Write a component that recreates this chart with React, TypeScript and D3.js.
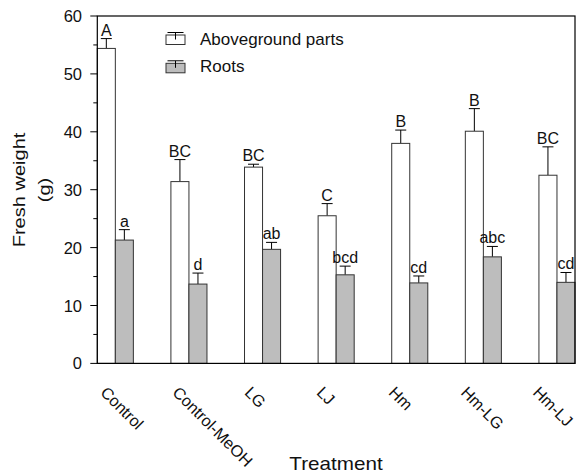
import React from "react";
import * as d3 from "d3";

const categories = ["Control", "Control-MeOH", "LG", "LJ", "Hm", "Hm-LG", "Hm-LJ"];
const aboveValues = [54.4, 31.4, 33.9, 25.5, 38.0, 40.1, 32.5];
const aboveErrors = [1.7, 3.8, 0.5, 2.1, 2.3, 3.9, 4.9];
const aboveLetters = ["A", "BC", "BC", "C", "B", "B", "BC"];
const rootValues = [21.3, 13.7, 19.7, 15.3, 13.9, 18.4, 14.0];
const rootErrors = [1.8, 1.9, 1.2, 1.5, 1.2, 1.8, 1.7];
const rootLetters = ["a", "d", "ab", "bcd", "cd", "abc", "cd"];
const seriesNames = ["Aboveground parts", "Roots"];
const yTicks = [0, 10, 20, 30, 40, 50, 60];
const yMinorTicks = [5, 15, 25, 35, 45, 55];

const FONT = "'Liberation Sans', Arial, Helvetica, sans-serif";
const W = 579;
const H = 476;
const left = 97.3;
const right = 575;
const top = 16;
const bottom = 363.4;
const WHITE = "#ffffff";
const GREY = "#bdbdbd";
const STROKE = "#333333";

export default function App() {
  const x = d3.scaleBand<string>().domain(categories).range([left, right]).paddingInner(0.51).paddingOuter(0);
  const y = d3.scaleLinear().domain([0, 60]).range([bottom, top]);
  const labelX = d3.scalePoint<string>().domain(categories).range([99.5, 532]);
  const bw = x.bandwidth() / 2;
  const capHalf = 5.5;

  const series = [
    { vals: aboveValues, errs: aboveErrors, letters: aboveLetters, fill: WHITE, off: 0 },
    { vals: rootValues, errs: rootErrors, letters: rootLetters, fill: GREY, off: bw },
  ];

  return (
    <svg width={W} height={H} style={{ position: "absolute", left: 0, top: 0, background: "#fff" }} fontFamily={FONT}>
      {series.map((s, si) =>
        categories.map((c, i) => {
          const x0 = (x(c) as number) + s.off;
          const cx = x0 + bw / 2;
          const yv = y(s.vals[i]);
          const ye = y(s.vals[i] + s.errs[i]);
          return (
            <g key={`${si}-${c}`}>
              <line x1={cx} x2={cx} y1={yv} y2={ye} stroke="#000" strokeWidth={1} />
              <line x1={cx - capHalf} x2={cx + capHalf} y1={ye} y2={ye} stroke="#000" strokeWidth={1} />
              <rect x={x0} y={yv} width={bw} height={bottom - yv} fill={s.fill} stroke={STROKE} strokeWidth={1} />
              <text x={cx} y={ye - 3} textAnchor="middle" fontSize={16} fill="#111">
                {s.letters[i]}
              </text>
            </g>
          );
        })
      )}

      <rect x={left} y={top} width={right - left} height={bottom - top} fill="none" stroke="#000" strokeWidth={1.2} />

      {yTicks.map((t) => (
        <g key={`t${t}`}>
          <line x1={left - 7} x2={left} y1={y(t)} y2={y(t)} stroke="#000" strokeWidth={1} />
          <text x={82} y={y(t) + 6} textAnchor="end" fontSize={16.5} fill="#111">
            {t}
          </text>
        </g>
      ))}
      {yMinorTicks.map((t) => (
        <line key={`m${t}`} x1={left - 4} x2={left} y1={y(t)} y2={y(t)} stroke="#000" strokeWidth={1} />
      ))}

      {categories.map((c) => (
        <text key={`l${c}`} transform={`translate(${labelX(c)},393.5) rotate(45)`} fontSize={16.3} fill="#111">
          {c}
        </text>
      ))}

      <text transform="translate(25,190) rotate(-90) scale(1.18,1)" textAnchor="middle" fontSize={17} fill="#111">
        Fresh weight
      </text>
      <text transform="translate(50,190) rotate(-90) scale(1.18,1)" textAnchor="middle" fontSize={17} fill="#111">
        (g)
      </text>
      <text transform="translate(336,470) scale(1.18,1)" textAnchor="middle" fontSize={17.5} fill="#111">
        Treatment
      </text>

      {seriesNames.map((n, i) => {
        const by = 35 + i * 28.3;
        return (
          <g key={n}>
            <rect x={166} y={by} width={19} height={9.5} fill={i === 0 ? WHITE : GREY} stroke={STROKE} strokeWidth={1} />
            <line x1={175.5} x2={175.5} y1={by - 2.5} y2={by + 4.5} stroke="#000" strokeWidth={1} />
            <line x1={167.5} x2={183.5} y1={by - 2.5} y2={by - 2.5} stroke="#000" strokeWidth={1} />
            <text x={200} y={by + 10 + (i === 1 ? -1.5 : 0)} fontSize={17} fill="#111">
              {n}
            </text>
          </g>
        );
      })}
    </svg>
  );
}
